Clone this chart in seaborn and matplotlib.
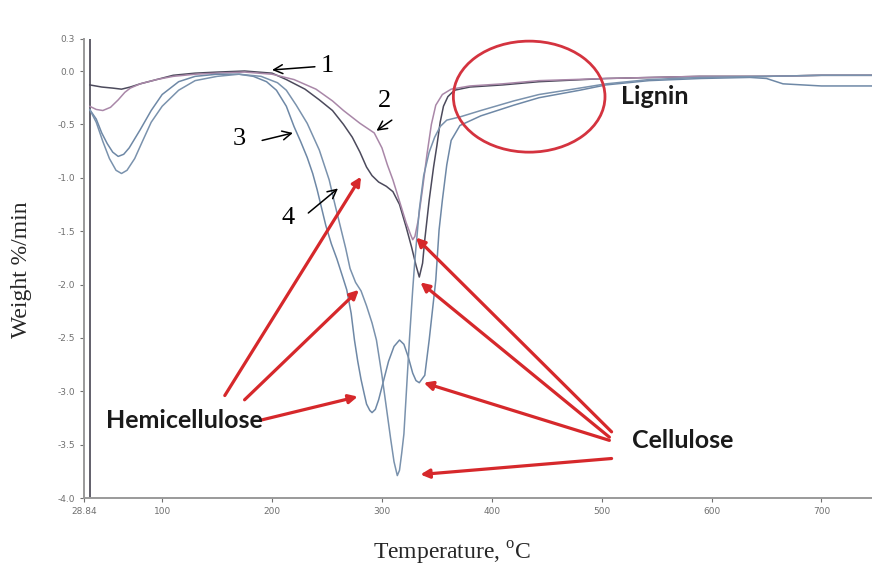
import numpy as np
import pandas as pd
import seaborn as sns
import matplotlib
matplotlib.use("Agg")
import matplotlib.pyplot as plt
from matplotlib.patches import Ellipse

# DTG curves (temperature in degC, weight loss rate in %/min)
c1_temp = [34, 45, 55, 63, 71, 80, 95, 110, 130, 150, 175, 200, 213, 230, 243, 255, 265, 273, 280, 286,
           291, 297, 304, 310, 316, 322, 327, 331, 334, 337, 339, 343, 347, 350, 353, 356, 360, 366, 380, 410,
           443, 504, 589, 650, 700, 750]
c1_rate = [-0.13, -0.15, -0.16, -0.17, -0.15, -0.12, -0.08, -0.04, -0.02, -0.01, 0.0, -0.02, -0.08, -0.17, -0.27, -0.37, -0.50, -0.62, -0.76, -0.90,
           -0.98, -1.04, -1.08, -1.13, -1.25, -1.46, -1.65, -1.82, -1.93, -1.80, -1.58, -1.21, -0.90, -0.70, -0.48, -0.33, -0.24, -0.18, -0.15, -0.13,
           -0.10, -0.07, -0.05, -0.05, -0.04, -0.04]

c2_temp = [34, 40, 46, 53, 60, 66, 71, 80, 95, 110, 130, 150, 175, 200, 220, 240, 255, 265, 280, 293,
           300, 305, 310, 316, 322, 326, 328, 330, 333, 337, 341, 345, 349, 355, 363, 380, 410, 443, 504, 589,
           650, 700, 750]
c2_rate = [-0.33, -0.36, -0.37, -0.34, -0.27, -0.20, -0.16, -0.12, -0.08, -0.05, -0.03, -0.02, -0.01, -0.03, -0.08, -0.17, -0.28, -0.37, -0.49, -0.58,
           -0.72, -0.88, -1.02, -1.22, -1.42, -1.53, -1.58, -1.55, -1.40, -1.10, -0.78, -0.50, -0.32, -0.22, -0.17, -0.14, -0.12, -0.09, -0.07, -0.05,
           -0.05, -0.04, -0.04]

c3_temp = [34, 40, 45, 50, 55, 60, 65, 70, 80, 90, 100, 115, 130, 150, 170, 183, 195, 204, 213, 220,
           226, 232, 237, 241, 245, 249, 254, 259, 264, 268, 272, 275, 278, 281, 284, 286, 289, 291, 294, 297,
           301, 306, 311, 316, 320, 324, 328, 331, 334, 339, 343, 349, 352, 355, 359, 363, 371, 390, 420, 443,
           480, 504, 543, 590, 635, 650, 665, 700, 750]
c3_rate = [-0.36, -0.45, -0.58, -0.68, -0.76, -0.80, -0.78, -0.72, -0.55, -0.37, -0.22, -0.10, -0.05, -0.03, -0.03, -0.05, -0.10, -0.18, -0.33, -0.52,
           -0.66, -0.81, -0.96, -1.11, -1.28, -1.45, -1.62, -1.76, -1.92, -2.05, -2.27, -2.52, -2.72, -2.89, -3.03, -3.12, -3.18, -3.20, -3.17, -3.08,
           -2.92, -2.72, -2.58, -2.52, -2.56, -2.68, -2.83, -2.90, -2.92, -2.85, -2.52, -1.96, -1.49, -1.21, -0.88, -0.65, -0.51, -0.42, -0.32, -0.25,
           -0.18, -0.13, -0.09, -0.07, -0.06, -0.07, -0.12, -0.14, -0.14]

c4_temp = [34, 40, 46, 52, 58, 63, 68, 75, 82, 90, 100, 115, 130, 150, 170, 190, 205, 213, 222, 232,
           243, 252, 257, 262, 267, 271, 276, 281, 286, 291, 295, 300, 304, 308, 311, 314, 316, 318, 320, 322,
           325, 328, 330, 334, 338, 343, 348, 353, 359, 371, 390, 420, 443, 480, 504, 543, 590, 650, 700, 750]
c4_rate = [-0.36, -0.48, -0.66, -0.82, -0.93, -0.96, -0.93, -0.82, -0.66, -0.48, -0.33, -0.18, -0.09, -0.05, -0.03, -0.05, -0.11, -0.18, -0.32, -0.49,
           -0.74, -1.02, -1.24, -1.45, -1.66, -1.85, -1.98, -2.06, -2.20, -2.36, -2.52, -2.85, -3.15, -3.45, -3.66, -3.79, -3.74, -3.58, -3.40, -3.05,
           -2.52, -2.05, -1.77, -1.30, -0.98, -0.76, -0.62, -0.52, -0.46, -0.43, -0.37, -0.28, -0.22, -0.16, -0.12, -0.08, -0.06, -0.05, -0.04, -0.04]

start_temp = 34.3
x_ticks = [28.84, 100, 200, 300, 400, 500, 600, 700]
x_tick_labels = ["28.84", "100", "200", "300", "400", "500", "600", "700"]
y_ticks = [0.3, 0.0, -0.5, -1.0, -1.5, -2.0, -2.5, -3.0, -3.5, -4.0]
y_tick_labels = ["0.3", "0.0", "-0.5", "-1.0", "-1.5", "-2.0", "-2.5", "-3.0", "-3.5", "-4.0"]

curves = {"1": (c1_temp, c1_rate), "2": (c2_temp, c2_rate),
          "3": (c3_temp, c3_rate), "4": (c4_temp, c4_rate)}
frames = [pd.DataFrame({"temp": t, "rate": r, "sample": k}) for k, (t, r) in curves.items()]
df = pd.concat(frames, ignore_index=True)

palette = {"1": "#4c4a5c", "2": "#a987a8", "3": "#6e88a6", "4": "#7a92ad"}

sns.set_theme(style="white")
plt.rcParams["font.family"] = ["DejaVu Sans"]
plt.rcParams["mathtext.fontset"] = "custom"
plt.rcParams["mathtext.rm"] = "Liberation Serif"

fig = plt.figure(figsize=(8.72, 5.76), dpi=100)
ax = fig.add_axes([0.0963, 0.1354, 0.9037, 0.7969])

ax.axvline(start_temp, color="#55535f", lw=1.3, zorder=1)
sns.lineplot(data=df, x="temp", y="rate", hue="sample", palette=palette,
             estimator=None, sort=False, linewidth=1.1, legend=False, ax=ax, zorder=3)

ax.set_xlim(28.84, 746)
ax.set_ylim(-4.0, 0.3)
ax.set_xticks(x_ticks)
ax.set_xticklabels(x_tick_labels)
ax.set_yticks(y_ticks)
ax.set_yticklabels(y_tick_labels)
ax.tick_params(axis="both", labelsize=6.5, colors="#707070", length=3, width=0.8,
               direction="out", bottom=True, left=True)
ax.set_xlabel("")
ax.set_ylabel("")
for side in ["top", "right"]:
    ax.spines[side].set_visible(False)
for side in ["left", "bottom"]:
    ax.spines[side].set_color("#9a9a9a")
    ax.spines[side].set_linewidth(1.4)

# Lignin region
ax.add_patch(Ellipse((434, -0.24), 138, 1.04, fill=False, edgecolor="#d4333f", lw=2.0, zorder=4))

red = "#d6282b"
red_style = dict(arrowstyle="-|>", color=red, lw=2.3, mutation_scale=13, shrinkA=0, shrinkB=0)
hemi_arrows = [((157, -3.04), (281, -0.99)), ((175, -3.08), (279, -2.05)), ((190, -3.27), (278, -3.05))]
cell_arrows = [((509, -3.38), (331, -1.56)), ((507, -3.43), (335, -1.98)),
               ((507, -3.46), (338, -2.92)), ((509, -3.63), (335, -3.78))]
for tail, tip in hemi_arrows + cell_arrows:
    ax.annotate("", xy=tip, xytext=tail, arrowprops=red_style, zorder=5)

bold_font = dict(family="Lato", fontweight="bold", fontsize=18, color="#1a1a1a")
ax.text(120, -3.27, "Hemicellulose", ha="center", va="center", zorder=6, **bold_font)
ax.text(574, -3.46, "Cellulose", ha="center", va="center", zorder=6, **bold_font)
ax.text(548, -0.24, "Lignin", ha="center", va="center", zorder=6, **bold_font)

# Curve numbering with thin pointers
black_style = dict(arrowstyle="->", color="black", lw=1.1, mutation_scale=16, shrinkA=0, shrinkB=0)
num_font = dict(family="Liberation Serif", fontsize=19, color="black", ha="center", va="center")
pointers = [("1", (250, 0.05), (239, 0.04), (200, 0.01)),
            ("2", (302, -0.28), (309, -0.46), (295, -0.56)),
            ("3", (170, -0.64), (191, -0.65), (219, -0.58)),
            ("4", (215, -1.38), (233, -1.33), (260, -1.10))]
for label, pos, tail, tip in pointers:
    ax.text(pos[0], pos[1], label, **num_font)
    ax.annotate("", xy=tip, xytext=tail, arrowprops=black_style)

fig.text(22 / 872, 1 - 270 / 576, "Weight %/min", rotation=90, ha="center", va="center",
         family="Liberation Serif", fontsize=17)
fig.text(452 / 872, 1 - 553 / 576, "Temperature, $^{\\mathrm{o}}$C", ha="center", va="center",
         family="Liberation Serif", fontsize=17)

fig.savefig("out.png", dpi=100)
